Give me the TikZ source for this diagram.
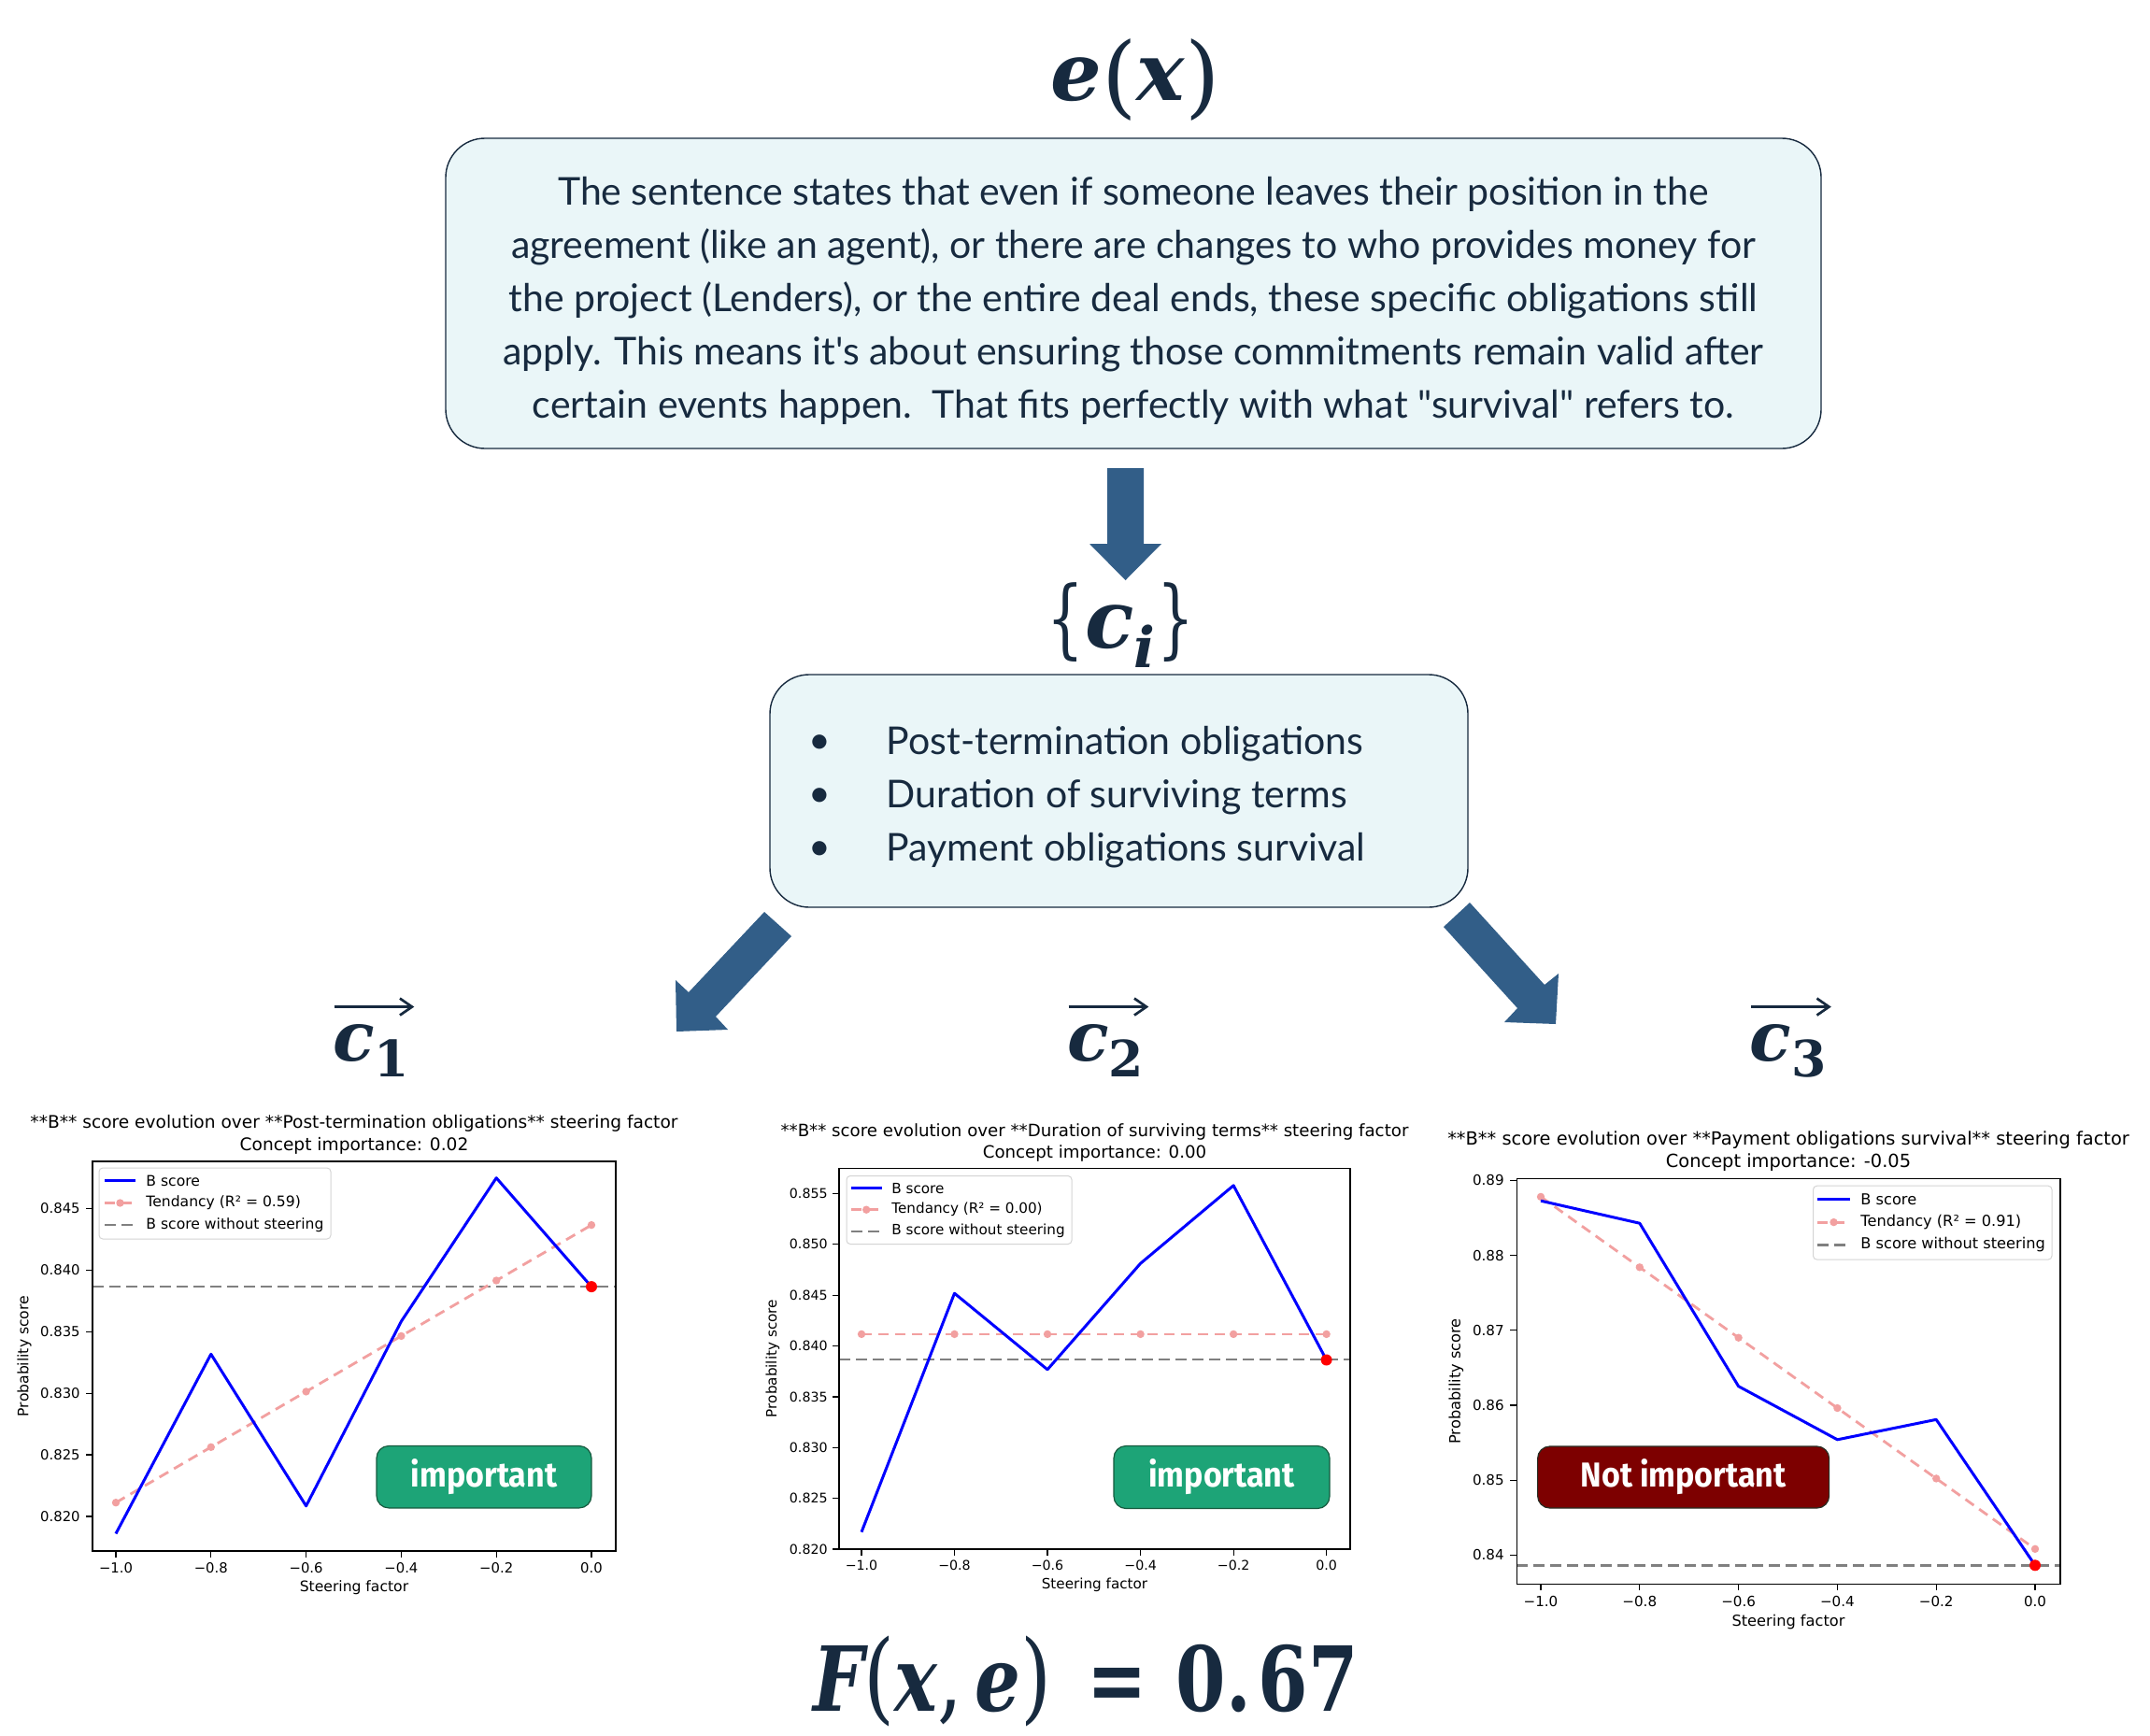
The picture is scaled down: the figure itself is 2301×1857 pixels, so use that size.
\documentclass[tikz,border=0pt]{standalone}
\usepackage{amsmath}
\usepackage{graphicx}
\usepackage{fontspec}
\usetikzlibrary{arrows.meta}
\setmainfont{Lato}[Ligatures=TeXOff]
\newfontfamily\plotfont{DejaVu Sans}
\newfontfamily\mserif{DejaVu Serif}
\newfontfamily\badgefont{Fira Sans}
\definecolor{navy}{HTML}{172A3F}
\definecolor{boxfill}{HTML}{EAF6F8}
\definecolor{arrowblue}{HTML}{325E88}
\definecolor{tpink}{HTML}{F2A0A0}
\definecolor{bgreen}{RGB}{29,164,119}
\definecolor{bgreenborder}{RGB}{22,90,62}
\definecolor{bred}{RGB}{125,0,0}
\definecolor{bredborder}{RGB}{40,45,35}
\definecolor{leggray}{HTML}{D4D4D4}
\definecolor{basegray}{HTML}{808080}
\newcommand{\bi}[1]{{\bfseries\itshape #1}}
\newcommand{\mainsize}{\fontsize{20.5}{28.5}\selectfont}
\begin{document}
\begin{tikzpicture}[x=0.5pt,y=-0.5pt,
  textbox/.style={draw=navy, line width=0.7pt, fill=boxfill, rounded corners=21pt},
  maintext/.style={font=\mainsize, text=navy, inner sep=0pt},
  mathlbl/.style={text=navy, inner sep=0pt},
  vecarrow/.style={draw=navy, line width=1.35pt, -{Straight Barb[length=6.5pt,width=9pt]}},
  axesframe/.style={draw=black, line width=0.65pt},
  tickmark/.style={draw=black, line width=0.6pt},
  bline/.style={draw=blue, line width=1.5pt, line join=round},
  tline/.style={draw=tpink, line width=1.4pt, dash pattern=on 5.5pt off 3.5pt},
  gline/.style={draw=basegray, line width=1.2pt, dash pattern=on 6pt off 3pt},
  tdot/.style={circle, fill=tpink, inner sep=0pt, minimum size=4.2pt},
  rdot/.style={circle, fill=red, inner sep=0pt, minimum size=6pt},
  legbox/.style={draw=leggray, fill=white, rounded corners=2pt, line width=0.5pt},
  ptxt/.style={font=\plotfont\fontsize{#1}{#1}\selectfont, inner sep=0pt, text=black},
  ptitle/.style 2 args={font=\plotfont\fontsize{#1}{#2}\selectfont, align=center, inner sep=0pt, text=black},
  badge/.style={rounded corners=6.5pt, line width=0.6pt, inner sep=0pt, text=white,
    font=\badgefont\bfseries\fontsize{18.5}{20}\selectfont},
  blockarrow/.style={fill=arrowblue}
]
\fill[white] (0,0) rectangle (2301,1857);
\useasboundingbox (0,0) rectangle (2301,1857);

% ---------- top part ----------
\node[mathlbl, anchor=base] (ex) at (1215,108)
 {\mserif\fontsize{43}{50}\selectfont\bi{e}\raisebox{-3.25pt}{\fontsize{48}{50}\selectfont(}\bi{x}\raisebox{-3.25pt}{\fontsize{48}{50}\selectfont)}};

\node[textbox, minimum width=736pt, minimum height=166pt] (expl) at (1213,314) {};
\node[maintext, align=center] (expltext) at (1213,321.5)
 {The sentence states that even if someone leaves their position in the\\
  agreement (like an agent), or there are changes to who provides money for\\
  the project (Lenders), or the entire deal ends, these specific obligations still\\
  apply. This means it's about ensuring those commitments remain valid after\\
  certain events happen.\ \ That fits perfectly with what "survival" refers to.};

\fill[blockarrow] (1185,501) -- (1224,501) -- (1224,582) -- (1243,582) -- (1204.5,621) -- (1166,582) -- (1185,582) -- cycle;

\node[mathlbl, anchor=base] (ci) at (1199.5,693)
 {\mserif\fontsize{43}{50}\selectfont{\fontsize{46}{50}\selectfont\scalebox{0.68}[1]{\{}}\kern0.5pt\bi{c}\raisebox{-10.5pt}{\fontsize{30}{32}\selectfont\bi{i}}\kern1pt{\fontsize{46}{50}\selectfont\scalebox{0.68}[1]{\}}}};

\node[textbox, minimum width=373.5pt, minimum height=124.5pt] (concepts) at (1197.5,846.5) {};
\node[maintext, align=center] (bul) at (877.5,853.5) {•\\•\\•};
\node[maintext, align=left, anchor=west] (items) at (948.5,853.5)
 {Post-termination obligations\\Duration of surviving terms\\Payment obligations survival};

\fill[blockarrow] (818,976) -- (847,1002) -- (766,1088) -- (779,1102) -- (724,1104) -- (723,1049) -- (737,1062) -- cycle;
\fill[blockarrow] (1545,992) -- (1573,966) -- (1653,1054) -- (1668,1042) -- (1665,1096) -- (1610,1094) -- (1624,1079) -- cycle;

\node[mathlbl, anchor=base, font=\mserif\fontsize{36.6}{40}\selectfont] (c1) at (397,1135)
 {\bi{c}\raisebox{-8.5pt}{\fontsize{26.8}{30}\selectfont\bfseries 1}};
\node[mathlbl, anchor=base, font=\mserif\fontsize{36.6}{40}\selectfont] (c2) at (1183,1135)
 {\bi{c}\raisebox{-8.5pt}{\fontsize{26.8}{30}\selectfont\bfseries 2}};
\node[mathlbl, anchor=base, font=\mserif\fontsize{36.6}{40}\selectfont] (c3) at (1913.5,1135)
 {\bi{c}\raisebox{-8.5pt}{\fontsize{26.8}{30}\selectfont\bfseries 3}};
\draw[vecarrow] ([xshift=1pt,yshift=9pt]c1.north west) -- ([xshift=2.5pt,yshift=9pt]c1.north east);
\draw[vecarrow] ([xshift=1pt,yshift=9pt]c2.north west) -- ([xshift=2.5pt,yshift=9pt]c2.north east);
\draw[vecarrow] ([xshift=1pt,yshift=9pt]c3.north west) -- ([xshift=2.5pt,yshift=9pt]c3.north east);

% ---------- plot 1 ----------
\node[ptitle={9.3}{12}] (p1title) at (379,1214)
 {**B** score evolution over **Post-termination obligations** steering factor\\Concept importance: 0.02};
\draw[gline] (99,1377.1) -- (659,1377.1);
\draw[tline] (124,1608.2) -- (225.8,1548.8) -- (327.6,1489.4) -- (429.4,1429.9) -- (531.2,1370.5) -- (633,1311.1);
\foreach \x/\y [count=\i] in {124/1608.2, 225.8/1548.8, 327.6/1489.4, 429.4/1429.9, 531.2/1370.5, 633/1311.1}
  \node[tdot] (p1t\i) at (\x,\y) {};
\draw[bline] (124,1641.4) -- (225.8,1449.3) -- (327.6,1611.8) -- (429.4,1414.3) -- (531.2,1260.7) -- (633,1377.1);
\node[rdot] (p1red) at (633,1377.1) {};
\draw[axesframe] (99,1243) rectangle (659,1660);
\foreach \x/\l [count=\i] in {124/−1.0, 225.8/−0.8, 327.6/−0.6, 429.4/−0.4, 531.2/−0.2, 633/0.0} {
  \draw[tickmark] (\x,1660) -- (\x,1667);
  \node[ptxt=7.4] (p1xt\i) at (\x,1678) {\l};
}
\foreach \y/\l [count=\i] in {1622.9/0.820, 1557/0.825, 1491.1/0.830, 1425.2/0.835, 1359.3/0.840, 1293.4/0.845} {
  \draw[tickmark] (99,\y) -- (92,\y);
  \node[ptxt=7.4, anchor=east] (p1yt\i) at (86,\y) {\l};
}
\node[ptxt=7.8] (p1xlab) at (379,1699) {Steering factor};
\node[ptxt=7.8, rotate=90] (p1ylab) at (26,1451.5) {Probability score};
\draw[legbox] (106,1250) rectangle (354,1326);
\draw[bline] (112,1263.6) -- (145,1263.6);
\node[ptxt=7.8, anchor=west] (p1l1) at (156,1263.6) {B score};
\draw[tline] (112,1287.5) -- (145,1287.5);
\node[tdot] (p1lm) at (128.5,1287.5) {};
\node[ptxt=7.8, anchor=west] (p1l2) at (156,1287.5) {Tendancy (R² = 0.59)};
\draw[gline] (112,1311) -- (145,1311);
\node[ptxt=7.8, anchor=west] (p1l3) at (156,1311) {B score without steering};
\node[badge, fill=bgreen, draw=bgreenborder, minimum width=115pt, minimum height=33.2pt] (p1badge) at (518,1580.7)
 {\scalebox{0.92}[1]{important}};

% ---------- plot 2 ----------
\node[ptitle={9.1}{11.4}] (p2title) at (1171.5,1223)
 {**B** score evolution over **Duration of surviving terms** steering factor\\Concept importance: 0.00};
\draw[gline] (898,1455) -- (1445,1455);
\draw[tline] (922,1427.9) -- (1419.6,1427.9);
\foreach \x [count=\i] in {922, 1021.5, 1121, 1220.6, 1320.1, 1419.6}
  \node[tdot] (p2t\i) at (\x,1427.9) {};
\draw[bline] (922,1639.7) -- (1021.5,1384.2) -- (1121,1465.8) -- (1220.6,1352.2) -- (1320.1,1268.8) -- (1419.6,1455.5);
\node[rdot] (p2red) at (1419.6,1455.5) {};
\draw[axesframe] (898,1250.6) rectangle (1445,1658);
\foreach \x/\l [count=\i] in {922/−1.0, 1021.5/−0.8, 1121/−0.6, 1220.6/−0.4, 1320.1/−0.2, 1419.6/0.0} {
  \draw[tickmark] (\x,1658) -- (\x,1665);
  \node[ptxt=7.1] (p2xt\i) at (\x,1675.5) {\l};
}
\foreach \y/\l [count=\i] in {1658/0.820, 1603.6/0.825, 1549.3/0.830, 1494.9/0.835, 1440.6/0.840, 1386.2/0.845, 1331.8/0.850, 1277.5/0.855} {
  \draw[tickmark] (898,\y) -- (891,\y);
  \node[ptxt=7.1, anchor=east] (p2yt\i) at (886,\y) {\l};
}
\node[ptxt=7.6] (p2xlab) at (1171.5,1696.5) {Steering factor};
\node[ptxt=7.6, rotate=90] (p2ylab) at (827,1454) {Probability score};
\draw[legbox] (906,1258.5) rectangle (1147,1331.5);
\draw[bline] (910.7,1271.6) -- (943.7,1271.6);
\node[ptxt=7.6, anchor=west] (p2l1) at (954,1271.6) {B score};
\draw[tline] (910.7,1294.7) -- (943.7,1294.7);
\node[tdot] (p2lm) at (927.2,1294.7) {};
\node[ptxt=7.6, anchor=west] (p2l2) at (954,1294.7) {Tendancy (R² = 0.00)};
\draw[gline] (910.7,1317.7) -- (943.7,1317.7);
\node[ptxt=7.6, anchor=west] (p2l3) at (954,1317.7) {B score without steering};
\node[badge, fill=bgreen, draw=bgreenborder, minimum width=115.5pt, minimum height=33.5pt] (p2badge) at (1307.5,1581)
 {\scalebox{0.92}[1]{important}};

% ---------- plot 3 ----------
\node[ptitle={9.7}{12.35}] (p3title) at (1914,1232)
 {**B** score evolution over **Payment obligations survival** steering factor\\Concept importance: -0.05};
\draw[gline] (1623.4,1675.3) -- (2205,1675.3);
\draw[tline] (1649,1280.9) -- (1754.8,1356.3) -- (1860.6,1431.7) -- (1966.4,1507.0) -- (2072.2,1582.4) -- (2178,1657.8);
\foreach \x/\y [count=\i] in {1649/1280.9, 1754.8/1356.3, 1860.6/1431.7, 1966.4/1507.0, 2072.2/1582.4, 2178/1657.8}
  \node[tdot] (p3t\i) at (\x,\y) {};
\draw[bline] (1649,1285.2) -- (1754.8,1309.2) -- (1860.6,1483.7) -- (1966.4,1540.8) -- (2072.2,1519.3) -- (2178,1675.3);
\node[rdot] (p3red) at (2178,1675.3) {};
\draw[axesframe] (1623.4,1261.6) rectangle (2205,1695.3);
\foreach \x/\l [count=\i] in {1649/−1.0, 1754.8/−0.8, 1860.6/−0.6, 1966.4/−0.4, 2072.2/−0.2, 2178/0.0} {
  \draw[tickmark] (\x,1695.3) -- (\x,1702.3);
  \node[ptxt=7.55] (p3xt\i) at (\x,1714) {\l};
}
\foreach \y/\l [count=\i] in {1664.4/0.84, 1584.2/0.85, 1504/0.86, 1423.8/0.87, 1343.6/0.88, 1263.4/0.89} {
  \draw[tickmark] (1623.4,\y) -- (1616.4,\y);
  \node[ptxt=7.55, anchor=east] (p3yt\i) at (1610,\y) {\l};
}
\node[ptxt=8.1] (p3xlab) at (1914,1736) {Steering factor};
\node[ptxt=8.1, rotate=90] (p3ylab) at (1558.5,1478.5) {Probability score};
\draw[legbox] (1940.5,1269.2) rectangle (2196,1348.1);
\draw[bline] (1945,1283.8) -- (1980,1283.8);
\node[ptxt=8.1, anchor=west] (p3l1) at (1991,1283.8) {B score};
\draw[tline] (1945,1308.1) -- (1980,1308.1);
\node[tdot] (p3lm) at (1962.5,1308.1) {};
\node[ptxt=8.1, anchor=west] (p3l2) at (1991,1308.1) {Tendancy (R² = 0.91)};
\draw[gline] (1945,1332.5) -- (1980,1332.5);
\node[ptxt=8.1, anchor=west] (p3l3) at (1991,1332.5) {B score without steering};
\node[badge, fill=bred, draw=bredborder, minimum width=156pt, minimum height=33pt] (p3badge) at (1801.6,1581)
 {\scalebox{0.92}[1]{Not important}};

% ---------- bottom ----------
\node[mathlbl, anchor=base] (Fxe) at (1162,1831)
 {\mserif\fontsize{48}{54}\selectfont\scalebox{0.8}[1]{\bi{F}{\fontsize{53}{54}\selectfont(}\bi{x}{\fontsize{53}{54}\selectfont,}\,\bi{e}{\fontsize{53}{54}\selectfont)}\hspace{0.5em}\textbf{=}\hspace{0.4em}\textbf{0.\hspace{0.1em}67}}};
\end{tikzpicture}
\end{document}
